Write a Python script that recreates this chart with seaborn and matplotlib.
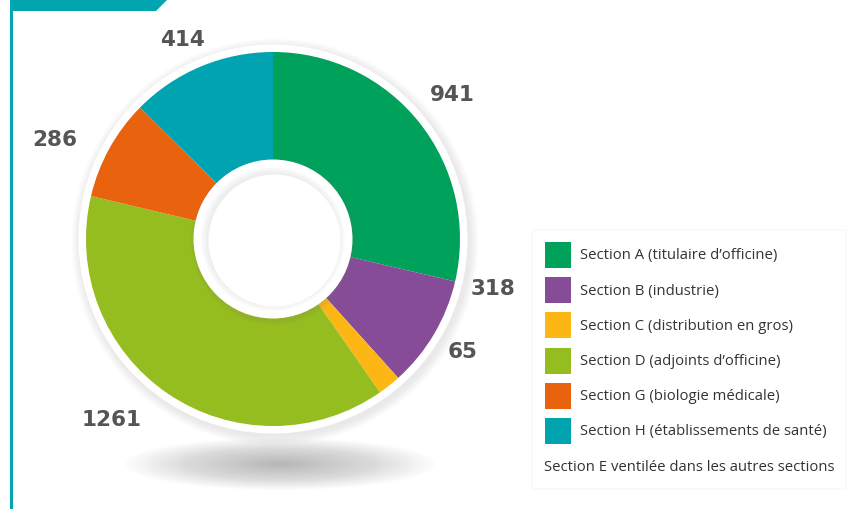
import matplotlib
matplotlib.use("Agg")
import matplotlib.pyplot as plt
import seaborn as sns
import numpy as np
from matplotlib.patches import Rectangle, Circle, Ellipse, Polygon

categories = ["Section A (titulaire d\u2019officine)", "Section B (industrie)",
              "Section C (distribution en gros)", "Section D (adjoints d\u2019officine)",
              "Section G (biologie m\u00e9dicale)", "Section H (\u00e9tablissements de sant\u00e9)"]
values = [941, 318, 65, 1261, 286, 414]
value_labels = ["941", "318", "65", "1261", "286", "414"]
colors = ["#00A25B", "#864C97", "#FDB714", "#95BD1F", "#E9630F", "#00A4B0"]
footer = "Section E ventil\u00e9e dans les autres sections"

sns.set_theme(style="white")
plt.rcParams['font.family'] = ['Open Sans', 'DejaVu Sans']

W, H = 852, 510
fig = plt.figure(figsize=(W / 100, H / 100), dpi=100)
ax = fig.add_axes([0, 0, 1, 1])

def py(y):
    return H - y

teal = "#00A5B0"
cx, cy = 273, py(240)
R = 187

wedges, _ = ax.pie(values, colors=colors, startangle=90, counterclock=False,
                   radius=R, center=(cx, cy), frame=True,
                   wedgeprops=dict(linewidth=0))
for w in wedges:
    w.set_zorder(4)
ax.set_xlim(0, W)
ax.set_ylim(0, H)
ax.set_aspect('equal')
ax.axis('off')

# frame
ax.add_patch(Rectangle((10, 0), 3, py(10), color=teal, lw=0))
ax.add_patch(Polygon([(10, py(0)), (168, py(0)), (156, py(12)), (10, py(12))],
                     closed=True, color=teal, lw=0))

# floor shadow
for i in range(30):
    f = 1 - i / 30
    ax.add_patch(Ellipse((280, py(465)), 310 * f, 52 * f, color="#888888",
                         alpha=0.022, lw=0, zorder=1))

# outer ring + shadow
for i in range(8):
    ax.add_patch(Circle((cx + 2, cy - 3), R + 8 + i * 1.2, color="#999999",
                        alpha=0.022, lw=0, zorder=2))
ax.add_patch(Circle((cx, cy), R + 7.5, color="white", lw=0, zorder=3))

# inner hole
for i in range(5):
    ax.add_patch(Circle((cx + 1.5, cy - 2), 80 + i * 1.0, color="#777777",
                        alpha=0.03, lw=0, zorder=5))
ax.add_patch(Circle((cx, cy), 79.5, color="white", lw=0, zorder=6))
for i in range(8):
    ax.add_patch(Circle((cx, cy), 72 - i * 0.9, color="#bbbbbb",
                        alpha=0.03, lw=0, zorder=7))
ax.add_patch(Circle((cx + 1.5, cy - 1.5), 66, color="white", lw=0, zorder=8))

# value labels
label_pos = [(452, 95), (493, 289), (463, 352), (112, 420), (55, 140), (182, 40)]
for (x, y), t in zip(label_pos, value_labels):
    ax.text(x, py(y), t, ha='center', va='center', fontsize=15.5, fontweight='bold',
            family='DejaVu Sans', color="#555555", zorder=10)

# legend
for i in range(4):
    ax.add_patch(Rectangle((533 - i * 0.8, py(489) - i * 0.8), 312 + i * 1.6, 257 + i * 1.6,
                           color="#999999", alpha=0.014, lw=0, zorder=8))
ax.add_patch(Rectangle((533, py(489)), 312, 257, color="white", lw=0, zorder=9))
for i, (c, t) in enumerate(zip(colors, categories)):
    yc = 256 + i * 35.2
    ax.add_patch(Rectangle((545, py(yc + 13)), 26, 26, color=c, lw=0, zorder=10))
    ax.text(580, py(yc), t, ha='left', va='center', fontsize=10.7, color="#333333", zorder=10)
ax.text(544, py(468), footer, ha='left', va='center', fontsize=10.7, color="#333333", zorder=10)

fig.savefig("out.png", dpi=100)
